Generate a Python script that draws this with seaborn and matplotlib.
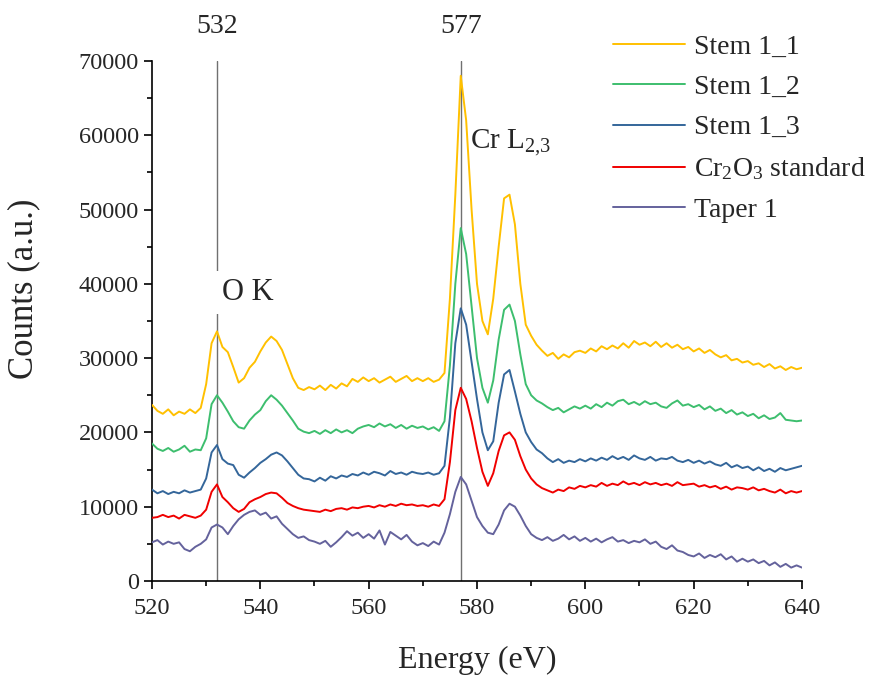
import numpy as np
import pandas as pd
import matplotlib
matplotlib.use("Agg")
import matplotlib.pyplot as plt
import seaborn as sns

# Energy-loss axis (eV), 1 eV steps
energy = np.arange(520, 641)

stem_1_1 = [
    23700, 22900, 22500, 23100, 22300, 22800, 22500, 23100, 22600, 23300,
    26500, 32000, 33600, 31500, 30800, 28800, 26700, 27300, 28700, 29500,
    30900, 32100, 32900, 32300, 31100, 29200, 27300, 26000, 25700, 26100,
    25800, 26300, 25700, 26400, 25900, 26600, 26200, 27200, 26800, 27400,
    26900, 27300, 26700, 27100, 27500, 26800, 27200, 27600, 26900, 27300,
    26900, 27300, 26800, 27100, 28000, 38000, 52000, 68000, 62000, 50000,
    40000, 35000, 33200, 38000, 45000, 51500, 52000, 48000, 40000, 34500,
    33000, 31800, 31000, 30300, 30700, 29900, 30500, 30100, 30800, 31000,
    30700, 31300, 30900, 31600, 31200, 31700, 31300, 32000, 31400, 32300,
    31800, 32100, 31600, 32200, 31500, 32000, 31400, 31800, 31200, 31500,
    30900, 31300, 30700, 31100, 30500, 30100, 30400, 29700, 29900, 29400,
    29600, 29100, 29300, 28800, 29200, 28600, 28900, 28400, 28800, 28500,
    28700,
]

stem_1_2 = [
    18500, 17800, 17500, 17900, 17400, 17700, 18200, 17400, 17700, 17600,
    19200, 23800, 25000, 24000, 22800, 21500, 20700, 20500, 21600, 22400,
    23000, 24200, 25000, 24400, 23600, 22600, 21600, 20500, 20100, 19900,
    20200, 19800, 20300, 19900, 20400, 20000, 20300, 19900, 20500, 20800,
    21000, 20700, 21200, 20800, 21100, 20600, 21000, 20500, 20900, 20600,
    20800, 20400, 20700, 20200, 21500, 29000, 40000, 47500, 44000, 37000,
    30000, 26000, 24000, 27000, 32500, 36500, 37200, 35000, 30500, 26500,
    25000, 24300, 23900, 23400, 23000, 23300, 22700, 23100, 23500, 23200,
    23600, 23200, 23800, 23400, 24000, 23600, 24200, 24400, 23800, 24100,
    23700, 24200, 23800, 24000, 23500, 23300, 23900, 24300, 23600, 23800,
    23400, 23700, 23100, 23500, 22900, 23200, 22600, 23000, 22400, 22700,
    22200, 22500, 21900, 22300, 21800, 22000, 22600, 21700, 21600, 21500,
    21600,
]

stem_1_3 = [
    12300, 11800, 12100, 11700, 12000, 11800, 12200, 11900, 12100, 12300,
    13800, 17300, 18300, 16400, 15800, 15600, 14300, 13900, 14600, 15200,
    15900, 16400, 17000, 17300, 16900, 16100, 15200, 14300, 13800, 13700,
    13400, 13900, 13500, 14100, 13800, 14200, 14000, 14400, 14200, 14600,
    14300, 14700, 14500, 14200, 14800, 14400, 14600, 14300, 14700, 14500,
    14400, 14600, 14300, 14500, 15500, 22000, 32000, 36700, 34500, 29500,
    24500, 20000, 17600, 18800, 24000, 27800, 28400, 25500, 22500, 20000,
    18700, 17700, 17200, 16500, 16000, 16400, 15900, 16200, 16000, 16400,
    16100, 16500, 16200, 16600, 16300, 16800, 16400, 16700, 16300, 16900,
    16500, 16300, 16700, 16200, 16500, 16400, 16700, 16200, 16000, 16300,
    15900, 16200, 15800, 16100, 15700, 15500, 15900, 15300, 15600, 15200,
    15400, 14900, 15300, 14800, 15100, 14700, 15200, 14900, 15100, 15300,
    15500,
]

cr2o3_standard = [
    8500, 8600, 8900, 8600, 8800, 8400, 8900, 8700, 8500, 8800,
    9600, 12000, 13000, 11300, 10600, 9800, 9300, 9700, 10600, 11000,
    11300, 11700, 11900, 11800, 11200, 10500, 10100, 9800, 9600, 9500,
    9400, 9300, 9600, 9400, 9700, 9800, 9600, 9900, 9800, 10000,
    10100, 9900, 10200, 10000, 10300, 10100, 10400, 10200, 10300, 10100,
    10200, 10000, 10300, 10100, 11000, 16000, 23000, 26000, 24500, 21500,
    17900, 14700, 12800, 14500, 17500, 19600, 20000, 19000, 16800, 15000,
    13800, 13000, 12500, 12200, 11900, 12300, 12100, 12600, 12400, 12800,
    12600, 12900, 12700, 13200, 12800, 13100, 12900, 13400, 13000, 13200,
    12900, 13300, 13000, 13200, 12900, 13100, 12800, 13300, 12900, 13000,
    13100, 12700, 12900, 12600, 12800, 12400, 12700, 12300, 12600, 12500,
    12300, 12600, 12200, 12400, 12100, 11900, 12300, 11800, 12100, 11900,
    12100,
]

taper_1 = [
    5200, 5500, 4900, 5300, 5000, 5200, 4300, 4000, 4600, 5000,
    5600, 7200, 7600, 7200, 6300, 7400, 8300, 8900, 9300, 9500,
    8900, 9200, 8400, 8700, 7700, 7000, 6300, 5800, 6000, 5500,
    5300, 5000, 5400, 4600, 5200, 5900, 6700, 6100, 6500, 5800,
    6300, 5700, 6800, 4900, 6600, 6100, 5600, 6200, 5300, 4800,
    5100, 4700, 5300, 4900, 6500, 9000, 12000, 14000, 13000, 10800,
    8600, 7400, 6500, 6300, 7600, 9500, 10400, 10000, 8800, 7400,
    6300, 5800, 5500, 5900, 5400, 5700, 6200, 5600, 6000, 5400,
    5800, 5300, 5700, 5200, 5600, 5900, 5300, 5500, 5100, 5400,
    5200, 5600, 5000, 5300, 4600, 4300, 4800, 4100, 3900, 3500,
    3300, 3700, 3100, 3500, 3200, 3600, 2900, 3300, 2600, 3000,
    2600, 2900, 2400, 2700, 2100, 2500, 1900, 2300, 1800, 2100,
    1800,
]

sample_names = ["Stem 1_1", "Stem 1_2", "Stem 1_3",
                "Cr$_2$O$_3$ standard", "Taper 1"]
series = [stem_1_1, stem_1_2, stem_1_3, cr2o3_standard, taper_1]
colors = ["#FFC000", "#3DBE6E", "#34669A", "#F00000", "#64629C"]

edge_positions = [532, 577]
edge_labels = ["O K", "Cr L$_{2{,}3}$"]

df = pd.concat(
    [pd.DataFrame({"Energy": energy, "Counts": vals, "Sample": name})
     for name, vals in zip(sample_names, series)],
    ignore_index=True,
)

sns.set_style("ticks")
plt.rcParams["font.family"] = ["Liberation Serif", "DejaVu Serif"]
plt.rcParams["mathtext.fontset"] = "custom"
plt.rcParams["mathtext.rm"] = "Liberation Serif"
plt.rcParams["mathtext.it"] = "Liberation Serif:italic"
plt.rcParams["mathtext.bf"] = "Liberation Serif:bold"

fig = plt.figure(figsize=(8.92, 6.75), dpi=100)
ax = fig.add_axes([0.1704, 0.1393, 0.7287, 0.7704])

sns.lineplot(data=df, x="Energy", y="Counts", hue="Sample",
             hue_order=sample_names, palette=dict(zip(sample_names, colors)),
             estimator=None, linewidth=1.4, ax=ax, zorder=3)

handles, labels = ax.get_legend_handles_labels()
ax.get_legend().remove()

# Edge markers
for e in edge_positions:
    ax.plot([e, e], [0, 70000], color="#707070", lw=1.0, zorder=1)
    ax.text(e, 74600, str(e), ha="center", va="center", fontsize=20,
            clip_on=False)

ax.text(533.0, 38800, edge_labels[0], ha="left", va="center", fontsize=22,
        zorder=2, bbox=dict(facecolor="white", edgecolor="none", pad=5))
ax.text(578.7, 59000, edge_labels[1], ha="left", va="center", fontsize=21,
        zorder=2, bbox=dict(facecolor="white", edgecolor="none", pad=5))

ax.set_xlim(520, 640)
ax.set_ylim(0, 70000)
ax.set_xticks(np.arange(520, 641, 20))
ax.set_xticks(np.arange(520, 641, 10), minor=True)
ax.set_yticks(np.arange(0, 70001, 10000))
ax.set_yticks(np.arange(0, 70001, 5000), minor=True)
ax.tick_params(which="major", direction="out", length=6, width=1.2,
               labelsize=17.5, color="black")
ax.tick_params(axis="x", which="major", pad=6)
ax.tick_params(which="minor", direction="out", length=3.5, width=1.2,
               color="black")
for side in ("left", "bottom"):
    ax.spines[side].set_linewidth(1.2)
    ax.spines[side].set_color("black")
sns.despine(ax=ax)

ax.set_xlabel("Energy (eV)", fontsize=23)
ax.set_ylabel("Counts (a.u.)", fontsize=25)
ax.xaxis.set_label_coords(0.5, -0.125)
ax.yaxis.set_label_coords(-0.172, 0.5615)

fig.legend(handles, labels, loc="upper left",
           bbox_to_anchor=(613 / 892, 1 - 34 / 675), frameon=False,
           fontsize=20, handlelength=2.6, handletextpad=0.32,
           labelspacing=0.54, borderaxespad=0, borderpad=0)

fig.savefig("out.png", dpi=100, facecolor="white")
